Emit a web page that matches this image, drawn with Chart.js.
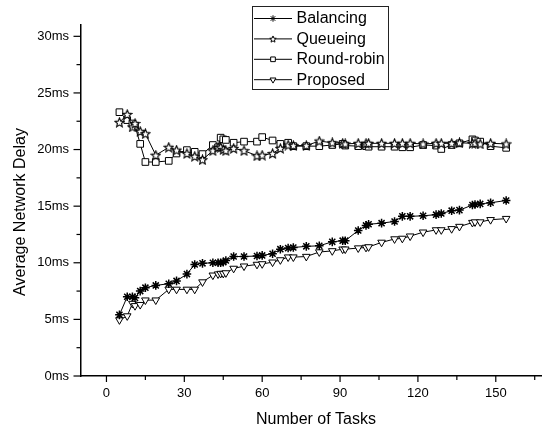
<!DOCTYPE html>
<html>
<head>
<meta charset="utf-8">
<script src="https://cdn.jsdelivr.net/npm/chart.js@4.4.1/dist/chart.umd.min.js"></script>
<style>
  html, body { margin: 0; padding: 0; background: #fff; }
  canvas { display: block; }
</style>
</head>
<body>
<canvas id="chart" width="547" height="432"></canvas>
<script>
// values
const tasks = [5, 8, 10, 11, 13, 15, 19, 24, 27, 31, 34, 37, 41, 43, 44, 45, 46, 49, 53, 58,
  60, 64, 67, 70, 72, 77, 82, 87, 91, 92, 97, 100, 101, 106, 111, 114, 117, 122, 127, 129,
  133, 136, 141, 142, 144, 148, 154];
const balancing = [5.4, 7.0, 7.0, 6.9, 7.5, 7.8, 8.0, 8.15, 8.4, 9.0, 9.85, 9.95, 10.0, 10.0, 10.0, 10.05, 10.2, 10.55, 10.55, 10.6,
  10.65, 10.8, 11.2, 11.3, 11.35, 11.45, 11.5, 11.85, 11.95, 11.95, 12.85, 13.3, 13.4, 13.5, 13.65, 14.1, 14.1, 14.15, 14.25, 14.35,
  14.6, 14.65, 15.1, 15.15, 15.2, 15.3, 15.5];
const queueing = [22.4, 23.1, 22.0, 22.3, 21.6, 21.4, 19.5, 20.2, 19.95, 19.65, 19.4, 19.1, 19.9, 20.2, 20.2, 20.0, 19.9, 20.1, 19.9, 19.45,
  19.5, 19.65, 20.1, 20.4, 20.35, 20.35, 20.75, 20.6, 20.55, 20.5, 20.55, 20.55, 20.55, 20.55, 20.55, 20.55, 20.55, 20.5, 20.55, 20.55,
  20.55, 20.6, 20.55, 20.55, 20.5, 20.55, 20.5];
const roundRobin = [23.3, 22.6, 22.3, 22.1, 20.5, 18.9, 18.9, 19.0, 19.65, 19.95, 19.8, 19.6, 20.4, 20.2, 21.05, 20.9, 20.85, 20.6, 20.7, 20.7,
  21.1, 20.8, 20.5, 20.6, 20.3, 20.3, 20.3, 20.4, 20.5, 20.35, 20.3, 20.3, 20.25, 20.25, 20.25, 20.2, 20.2, 20.4, 20.35, 20.05,
  20.4, 20.55, 20.9, 20.8, 20.7, 20.3, 20.15];
const proposed = [4.95, 5.3, 6.4, 6.2, 6.3, 6.7, 6.7, 7.65, 7.65, 7.65, 7.65, 8.3, 8.9, 9.0, 9.05, 9.05, 9.1, 9.5, 9.7, 9.85,
  9.9, 10.05, 10.25, 10.5, 10.5, 10.55, 10.95, 11.05, 11.2, 11.2, 11.3, 11.35, 11.4, 11.8, 12.1, 12.15, 12.35, 12.7, 12.9, 12.9,
  13.0, 13.2, 13.55, 13.6, 13.6, 13.8, 13.9];
const xTicks = [0, 15, 30, 45, 60, 75, 90, 105, 120, 135, 150, 165];
const yTicks = [0, 2.5, 5, 7.5, 10, 12.5, 15, 17.5, 20, 22.5, 25, 27.5, 30];

const FONT = "'Liberation Sans', Arial, sans-serif";

// five-pointed outline star, Chart.js has no such point style
function starCanvas(size, lw) {
  const c = document.createElement('canvas');
  c.width = size; c.height = size;
  const g = c.getContext('2d');
  const cx = size / 2, cy = size / 2 + 0.4;
  const R = size / 2 - lw * 0.6, r = R * 0.45;
  g.beginPath();
  for (let i = 0; i < 10; i++) {
    const a = -Math.PI / 2 + i * Math.PI / 5;
    const rr = i % 2 ? r : R;
    g.lineTo(cx + rr * Math.cos(a), cy + rr * Math.sin(a));
  }
  g.closePath();
  g.fillStyle = '#fff';
  g.fill();
  g.lineWidth = lw;
  g.strokeStyle = '#000';
  g.stroke();
  return c;
}
const starBig = starCanvas(11, 1.1);
const starSmall = starCanvas(8, 1);

const toPoints = ys => tasks.map((t, i) => ({ x: t, y: ys[i] }));

const series = [
  { label: 'Balancing', data: balancing, style: 'star', radius: 4.3, rot: 0, legend: 'star', legendR: 3.2 },
  { label: 'Queueing', data: queueing, style: starBig, radius: 4.5, rot: 0, legend: starSmall, legendR: 3 },
  { label: 'Round-robin', data: roundRobin, style: 'rect', radius: 4.7, rot: 0, legend: 'rect', legendR: 3.3 },
  { label: 'Proposed', data: proposed, style: 'triangle', radius: 4.4, rot: 180, legend: 'triangle', legendR: 3.4 }
];

const tickMarks = {
  id: 'tickMarks',
  afterDraw(chart) {
    const { ctx, chartArea } = chart;
    const x = chart.scales.x, y = chart.scales.y;
    ctx.save();
    ctx.strokeStyle = '#000';
    ctx.lineWidth = 1.2;
    xTicks.forEach(v => {
      const px = x.getPixelForValue(v);
      const len = v % 30 === 0 ? 6 : 4;
      ctx.beginPath();
      ctx.moveTo(px, chartArea.bottom);
      ctx.lineTo(px, chartArea.bottom + len);
      ctx.stroke();
    });
    yTicks.forEach(v => {
      const py = y.getPixelForValue(v);
      const len = v % 5 === 0 ? 7 : 4;
      ctx.beginPath();
      ctx.moveTo(chartArea.left, py);
      ctx.lineTo(chartArea.left - len, py);
      ctx.stroke();
    });

    // axis titles
    ctx.fillStyle = '#000';
    ctx.font = '16px ' + FONT;
    ctx.textAlign = 'center';
    ctx.textBaseline = 'alphabetic';
    ctx.fillText('Number of Tasks', 316, 424);
    ctx.translate(25, 212);
    ctx.rotate(-Math.PI / 2);
    ctx.fillText('Average Network Delay', 0, 0);
    ctx.restore();
  }
};

const boxLegend = {
  id: 'boxLegend',
  afterDraw(chart) {
    const { ctx } = chart;
    ctx.save();
    ctx.fillStyle = '#fff';
    ctx.fillRect(252.5, 6.5, 136, 83);
    ctx.strokeStyle = '#222';
    ctx.lineWidth = 1;
    ctx.strokeRect(252.5, 6.5, 136, 83);
    ctx.font = '16px ' + FONT;
    ctx.textBaseline = 'middle';
    ctx.textAlign = 'left';
    series.forEach((s, i) => {
      const cy = 18.5 + i * 20.4;
      ctx.strokeStyle = '#000';
      ctx.lineWidth = 1;
      ctx.beginPath();
      ctx.moveTo(254, cy);
      ctx.lineTo(292, cy);
      ctx.stroke();
      ctx.fillStyle = '#fff';
      Chart.helpers.drawPoint(ctx, {
        pointStyle: s.legend, radius: s.legendR, rotation: s.rot, borderWidth: 1
      }, 273, cy);
      ctx.fillStyle = '#000';
      ctx.fillText(s.label, 296.5, cy + 0.5);
    });
    ctx.restore();
  }
};

new Chart(document.getElementById('chart'), {
  type: 'scatter',
  data: {
    datasets: series.map(s => ({
      label: s.label,
      data: toPoints(s.data),
      showLine: true,
      borderColor: '#000',
      borderWidth: 1,
      pointStyle: s.style,
      pointRadius: s.radius,
      pointRotation: s.rot,
      pointBackgroundColor: '#fff',
      pointBorderColor: '#000',
      pointBorderWidth: s.style === 'star' ? 1.5 : 1
    }))
  },
  options: {
    responsive: false,
    animation: false,
    layout: { padding: { left: 0, right: 2, top: 25, bottom: 0 } },
    plugins: { legend: { display: false }, tooltip: { enabled: false } },
    scales: {
      x: {
        type: 'linear',
        min: -10,
        max: 167.5,
        afterFit: s => { s.height = 56; },
        afterBuildTicks: s => { s.ticks = xTicks.map(v => ({ value: v })); },
        grid: { display: false, drawTicks: false },
        border: { display: true, color: '#000', width: 1.5 },
        ticks: {
          autoSkip: false,
          maxRotation: 0,
          padding: 10,
          color: '#000',
          font: { family: FONT, size: 13 },
          callback: v => (v % 30 === 0 ? String(v) : '')
        }
      },
      y: {
        min: 0,
        max: 31,
        afterFit: s => { s.width = 80.5; },
        afterBuildTicks: s => { s.ticks = yTicks.map(v => ({ value: v })); },
        grid: { display: false, drawTicks: false },
        border: { display: true, color: '#000', width: 1.5 },
        ticks: {
          autoSkip: false,
          padding: 11.5,
          color: '#000',
          font: { family: FONT, size: 13 },
          callback: v => (v % 5 === 0 ? v + 'ms' : '')
        }
      }
    }
  },
  plugins: [tickMarks, boxLegend]
});
</script>
</body>
</html>
